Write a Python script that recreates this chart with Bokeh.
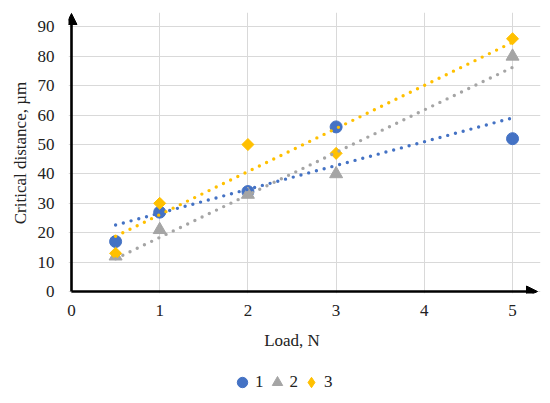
import numpy as np
from bokeh.plotting import figure
from bokeh.layouts import column
from bokeh.models import (Range1d, FixedTicker, Arrow, NormalHead, Legend, LegendItem, Label)
from bokeh.embed import file_html
from bokeh.resources import INLINE

load = [0.5, 1, 2, 3, 5]
series1 = [17, 27, 34, 56, 52]
series2 = [12, 21, 33, 40, 80]
series3 = [13, 30, 50, 47, 86]
names = ["1", "2", "3"]
x_ticks = [0, 1, 2, 3, 4, 5]
y_ticks = [0, 10, 20, 30, 40, 50, 60, 70, 80, 90]

colors = ["#4472C4", "#A5A5A5", "#FFC000"]
FONT = "'Liberation Serif', serif"

xr = Range1d(-0.034, 5.317)
p = figure(width=542, height=327, output_backend="svg", toolbar_location=None,
           x_range=xr, y_range=Range1d(-0.68, 94.93),
           min_border_left=68, min_border_right=2, min_border_top=12, min_border_bottom=34)
p.outline_line_color = None
p.background_fill_color = "white"

for ax in (p.xaxis, p.yaxis):
    ax.axis_line_color = None
    ax.major_tick_line_color = None
    ax.minor_tick_line_color = None
    ax.major_tick_out = 0
    ax.major_label_text_font = FONT
    ax.major_label_text_font_size = "17px"
    ax.major_label_text_color = "#222222"
p.xaxis.ticker = FixedTicker(ticks=x_ticks)
p.yaxis.ticker = FixedTicker(ticks=y_ticks)
p.xaxis.major_label_standoff = 11
p.yaxis.major_label_standoff = 14
p.yaxis.axis_label = "Critical distance, \u00b5m"
p.yaxis.axis_label_text_font = FONT
p.yaxis.axis_label_text_font_size = "17px"
p.yaxis.axis_label_text_font_style = "normal"
p.yaxis.axis_label_text_color = "#222222"
p.yaxis.axis_label_standoff = 5

p.xgrid.grid_line_color = "#D9D9D9"
p.ygrid.grid_line_color = "#D9D9D9"
p.xgrid.grid_line_width = 1
p.ygrid.grid_line_width = 1

all_series = [series1, series2, series3]
p.scatter(load, series1, marker="circle", size=12, fill_color=colors[0], line_color=colors[0])
p.scatter(load, series2, marker="triangle", size=13, fill_color=colors[1], line_color=colors[1])
p.scatter(load, series3, marker="square", angle=np.pi / 4, size=8.5, fill_color=colors[2], line_color=colors[2])

xs = np.array(load, dtype=float)
for s, c in zip(all_series, colors):
    k, b = np.polyfit(xs, np.array(s, dtype=float), 1)
    xe = [xs.min(), xs.max()]
    p.line(xe, [k * xe[0] + b, k * xe[1] + b], line_color=c, line_width=3.4,
           line_dash="0 8", line_cap="round")

# axes with arrows
p.add_layout(Arrow(end=NormalHead(size=11, fill_color="black", line_color="black"),
                   x_start=0, y_start=0, x_end=5.283, y_end=0, line_width=2.6, line_color="black"))
p.add_layout(Arrow(end=NormalHead(size=11, fill_color="black", line_color="black"),
                   x_start=0, y_start=0, x_end=0, y_end=94.6, line_width=2.6, line_color="black"))

# lower strip: x-axis title and legend (shares the x scale of the chart)
p2 = figure(width=542, height=68, output_backend="svg", toolbar_location=None,
            x_range=xr, y_range=Range1d(0, 68),
            min_border_left=68, min_border_right=2, min_border_top=0, min_border_bottom=0)
p2.axis.visible = False
p2.grid.visible = False
p2.outline_line_color = None

p2.add_layout(Label(x=2.5, y=55, text="Load, N", text_font=FONT, text_font_size="17px",
                    text_align="center", text_baseline="middle", text_color="#222222"))

m1 = p2.scatter([np.nan], [np.nan], marker="circle", fill_color=colors[0], line_color=colors[0])
m2 = p2.scatter([np.nan], [np.nan], marker="triangle", fill_color=colors[1], line_color=colors[1])
m3 = p2.scatter([np.nan], [np.nan], marker="diamond", fill_color=colors[2], line_color=colors[2])

legend = Legend(items=[LegendItem(label=names[0], renderers=[m1]),
                       LegendItem(label=names[1], renderers=[m2]),
                       LegendItem(label=names[2], renderers=[m3])],
                orientation="horizontal", location=(161, 0),
                glyph_width=26, glyph_height=26, label_standoff=0, label_width=6, spacing=0,
                padding=0, margin=0, border_line_color=None, background_fill_alpha=0,
                label_text_font=FONT, label_text_font_size="17px", label_text_color="#222222")
p2.add_layout(legend)

open("out.html", "w").write(file_html(column(p, p2), INLINE))
